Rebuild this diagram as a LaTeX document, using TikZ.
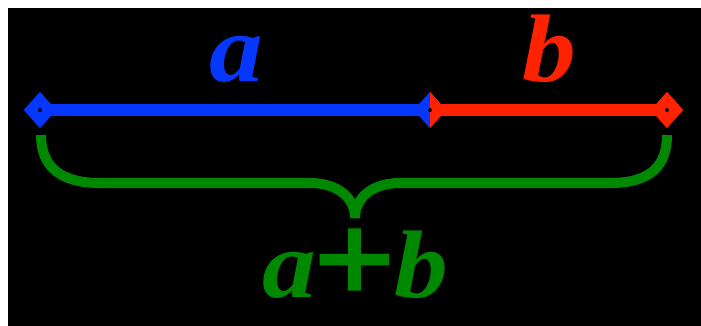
\documentclass[tikz,border=0pt]{standalone}
\usepackage{fontspec}
\usepackage{graphicx}
\setmainfont{Liberation Serif}
\newfontfamily\plusfont[FakeBold=2]{Liberation Serif}
\usetikzlibrary{shapes.geometric}
\definecolor{cblue}{RGB}{5,55,255}
\definecolor{cred}{RGB}{255,34,0}
\definecolor{cgreen}{RGB}{0,136,0}
\newcommand{\lblsize}{\fontsize{96}{96}\selectfont\bfseries\itshape}
\newcommand{\wide}[1]{\scalebox{1.12}[1]{#1}}
\begin{document}
\begin{tikzpicture}[x=1pt,y=-1pt,
  tipbox/.style={diamond,minimum width=32pt,minimum height=36pt,inner sep=0pt,draw=none},
  seg/.style={line width=12pt},
  lbl/.style={font=\lblsize,inner sep=0pt,anchor=base},
  dotbox/.style={circle,fill=black,inner sep=0pt,minimum size=4pt},
  bracestyle/.style={cgreen,line width=10pt}]
\useasboundingbox (0,0) rectangle (701,326);
\fill[white] (0,0) rectangle (701,326);
\fill[black] (8,8) rectangle (701,326);
% end points
\node[tipbox] (A) at (40,110) {};
\node[tipbox] (M) at (430,110) {};
\node[tipbox] (B) at (667,110) {};
% segments
\draw[seg,cblue] (A.center) -- (M.center);
\draw[seg,cred] (M.center) -- (B.center);
% diamond heads
\fill[cblue] (A.north) -- (A.east) -- (A.south) -- (A.west) -- cycle;
\fill[cblue] (M.north) -- (M.center) -- (M.south) -- (M.west) -- cycle;
\fill[cred] (M.north) -- (M.east) -- (M.south) -- (M.center) -- cycle;
\fill[cred] (B.north) -- (B.east) -- (B.south) -- (B.west) -- cycle;
\node[dotbox] (dA) at (A) {};
\node[dotbox] (dM) at (M) {};
\node[dotbox] (dB) at (B) {};
% brace
\coordinate (bl) at (41,135);
\coordinate (br) at (667,135);
\coordinate (bt) at (355,218);
\draw[bracestyle] (bl) .. controls (41,168) and (62,183) .. (100,183) -- (310,183)
  .. controls (338,183) and (355,198) .. (bt)
  .. controls (355,198) and (372,183) .. (400,183) -- (610,183)
  .. controls (648,183) and (667,168) .. (br);
% labels
\node[lbl,text=cblue] (la) at (236,82) {\wide{a}};
\node[lbl,text=cred] (lb) at (549,82) {\wide{b}};
\node[lbl,text=cgreen] (lab) at (355,297) {\wide{a\kern-2pt\raisebox{-5pt}{\fontsize{128}{128}\plusfont\bfseries\upshape +}\kern-1pt b}};
\end{tikzpicture}
\end{document}
